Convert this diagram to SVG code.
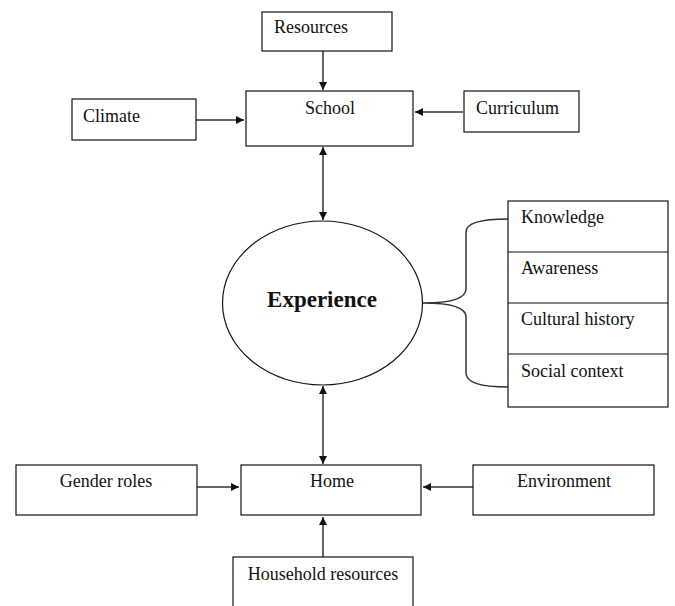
<svg xmlns="http://www.w3.org/2000/svg" width="675" height="606" viewBox="0 0 675 606">
<style>
.box{fill:#fff;stroke:#111;stroke-width:1.2}
.t{font-family:"Liberation Serif","Times New Roman",serif;font-size:18px;fill:#111}
.c{text-anchor:middle}
.ln{stroke:#333;stroke-width:1.5;fill:none}
</style>
<defs>
<marker id="ah" viewBox="0 0 10 10" refX="10" refY="5" markerWidth="8" markerHeight="8" markerUnits="userSpaceOnUse" orient="auto-start-reverse">
<path d="M0,0 L10,5 L0,10 z" fill="#111"/>
</marker>
</defs>
<rect width="675" height="606" fill="#fff"/>
<g id="connectors">
<line class="ln" x1="323" y1="51" x2="323" y2="90" marker-end="url(#ah)"/>
<line class="ln" x1="196" y1="120" x2="244" y2="120" marker-end="url(#ah)"/>
<line class="ln" x1="463" y1="112" x2="415" y2="112" marker-end="url(#ah)"/>
<line class="ln" x1="323" y1="147" x2="323" y2="220" marker-start="url(#ah)" marker-end="url(#ah)"/>
<line class="ln" x1="323" y1="386" x2="323" y2="464" marker-start="url(#ah)" marker-end="url(#ah)"/>
<line class="ln" x1="197" y1="487" x2="239" y2="487" marker-end="url(#ah)"/>
<line class="ln" x1="473" y1="487" x2="423" y2="487" marker-end="url(#ah)"/>
<line class="ln" x1="323" y1="557" x2="323" y2="517" marker-end="url(#ah)"/>
<path class="ln" d="M508,219 Q466,219 466,232 L466,289 Q466,303 423,303 Q466,303 466,317 L466,373 Q466,387 508,387" stroke-width="1.3"/>
</g>
<g id="resources"><rect class="box" x="262" y="12" width="130" height="39"/><text class="t" x="274" y="33">Resources</text></g>
<g id="school"><rect class="box" x="246" y="91" width="167" height="55"/><text class="t c" x="330" y="114">School</text></g>
<g id="climate"><rect class="box" x="72" y="99" width="124" height="41"/><text class="t" x="83" y="122">Climate</text></g>
<g id="curriculum"><rect class="box" x="464" y="91" width="115" height="41"/><text class="t" x="476" y="114">Curriculum</text></g>
<g id="experience"><ellipse cx="322.5" cy="303" rx="100" ry="82" fill="#fff" stroke="#111" stroke-width="1.2"/><text x="322" y="307" text-anchor="middle" font-family="'Liberation Serif','Times New Roman',serif" font-size="23" font-weight="bold" fill="#111">Experience</text></g>
<g id="aspects">
<rect class="box" x="508" y="201" width="160" height="206"/>
<line x1="508" y1="252" x2="668" y2="252" stroke="#111" stroke-width="1.2"/>
<line x1="508" y1="303" x2="668" y2="303" stroke="#111" stroke-width="1.2"/>
<line x1="508" y1="354" x2="668" y2="354" stroke="#111" stroke-width="1.2"/>
<text class="t" x="521" y="223">Knowledge</text>
<text class="t" x="521" y="274">Awareness</text>
<text class="t" x="521" y="325">Cultural history</text>
<text class="t" x="521" y="377">Social context</text>
</g>
<g id="gender"><rect class="box" x="16" y="465" width="181" height="50"/><text class="t c" x="106" y="487">Gender roles</text></g>
<g id="home"><rect class="box" x="241" y="465" width="180" height="50"/><text class="t c" x="332" y="487">Home</text></g>
<g id="environment"><rect class="box" x="473" y="465" width="181" height="50"/><text class="t c" x="564" y="487">Environment</text></g>
<g id="household"><rect class="box" x="233" y="557" width="180" height="52"/><text class="t c" x="323" y="580">Household resources</text></g>
</svg>
